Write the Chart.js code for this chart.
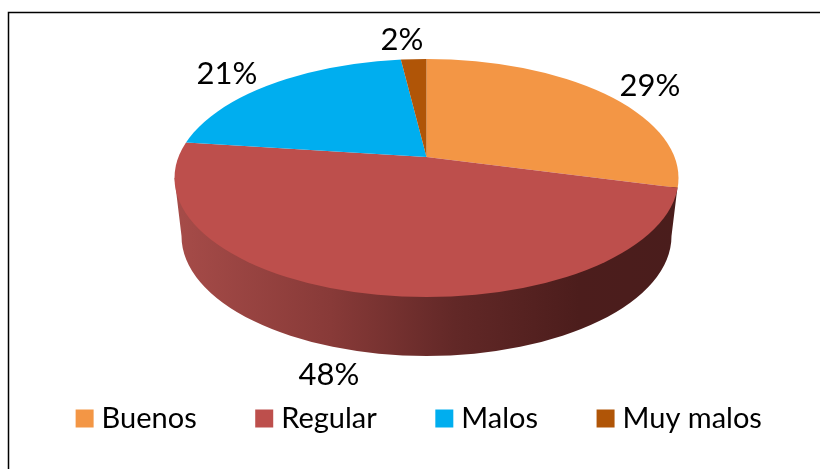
<!DOCTYPE html>
<html>
<head>
<meta charset="utf-8">
<script src="https://cdn.jsdelivr.net/npm/chart.js@4"></script>
<style>
  html, body { margin: 0; padding: 0; background: #fff; }
  #wrap { width: 820px; height: 469px; }
</style>
</head>
<body>
<div id="wrap"><canvas id="pie" width="820" height="469"></canvas></div>
<script>
const categories = ["Buenos", "Regular", "Malos", "Muy malos"];
const percents = [29, 48, 21, 2];
const colors = ["#F39645", "#BD4F4C", "#00AEEF", "#B05507"];

// the tilted disc: apex sits above the rim's centre, as in a 3D office pie
const apex = { x: 426.5, y: 157 };
const rim = { x: 426.5, y: 178, rx: 252, ry: 119 };
const foot = { x: 426.5, y: 236, rx: 245, ry: 120 };
const tilt = 0.48;
const labelSpots = [[650, 86], [329, 375], [227, 74], [402, 40]];
const legendShift = 12;

const tiltedPie = {
  id: "tiltedPie",
  afterLayout(chart) {
    chart.legend.left += legendShift;
    chart.legend.right += legendShift;
  },
  beforeDatasetsDraw(chart) {
    const ctx = chart.ctx;
    const arc = chart.getDatasetMeta(0).data[0];
    const grad = ctx.createLinearGradient(foot.x - foot.rx, 0, rim.x + rim.rx, 0);
    grad.addColorStop(0, "#A54B48");
    grad.addColorStop(0.3, "#883A38");
    grad.addColorStop(0.55, "#622827");
    grad.addColorStop(0.8, "#4C1D1C");
    grad.addColorStop(1, "#4A1D1C");

    ctx.save();
    ctx.beginPath();
    ctx.moveTo(rim.x + rim.rx - 1, rim.y + 9);
    ctx.lineTo(foot.x + foot.rx, foot.y);
    ctx.ellipse(foot.x, foot.y, foot.rx, foot.ry, 0, 0, Math.PI);
    ctx.lineTo(rim.x - rim.rx, rim.y);
    ctx.closePath();
    ctx.fillStyle = grad;
    ctx.fill();
    ctx.restore();

    // squash the library's arcs and trim them to the rim ellipse
    const scale = 340 / arc.outerRadius;
    ctx.save();
    ctx.beginPath();
    ctx.ellipse(rim.x, rim.y, rim.rx, rim.ry, 0, 0, Math.PI * 2);
    ctx.clip();
    ctx.translate(apex.x, apex.y);
    ctx.scale(scale, scale * tilt);
    ctx.translate(-arc.x, -arc.y);
  },
  afterDatasetsDraw(chart) {
    const ctx = chart.ctx;
    ctx.restore();
    ctx.save();
    ctx.font = "31px Lato";
    ctx.fillStyle = "#000";
    ctx.textAlign = "center";
    ctx.textBaseline = "middle";
    percents.forEach((p, i) => ctx.fillText(p + "%", labelSpots[i][0], labelSpots[i][1]));
    ctx.restore();
  },
  beforeDraw(chart) {
    const ctx = chart.ctx;
    ctx.save();
    ctx.strokeStyle = "#000";
    ctx.lineWidth = 1.5;
    ctx.beginPath();
    ctx.moveTo(8.5, 469);
    ctx.lineTo(8.5, 12.5);
    ctx.lineTo(820, 12.5);
    ctx.stroke();
    ctx.restore();
  }
};

new Chart(document.getElementById("pie"), {
  type: "pie",
  data: {
    labels: categories,
    datasets: [{ data: percents, backgroundColor: colors, borderWidth: 0 }]
  },
  options: {
    responsive: false,
    animation: false,
    layout: { padding: { bottom: 26 } },
    plugins: {
      tooltip: { enabled: false },
      legend: {
        position: "bottom",
        labels: {
          // small box + thick stroke: keeps the swatch 18px but closer to its text
          boxWidth: 5,
          boxHeight: 5,
          padding: 65,
          color: "#595959",
          font: { family: "Lato", size: 29 },
          generateLabels: () => categories.map((text, i) => ({
            text, index: i, fillStyle: colors[i], strokeStyle: colors[i], lineWidth: 13
          }))
        }
      }
    }
  },
  plugins: [tiltedPie]
});
</script>
</body>
</html>
